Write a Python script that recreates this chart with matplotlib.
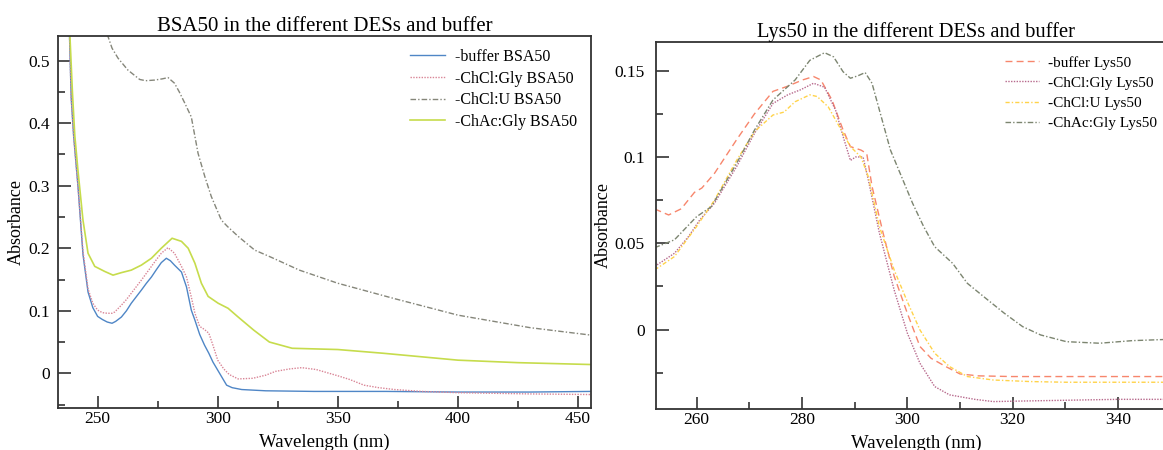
import numpy as np
import matplotlib
matplotlib.use("Agg")
import matplotlib.pyplot as plt

plt.rcParams["font.family"] = ["Liberation Serif", "DejaVu Serif"]

# ---------------- BSA50 panel ----------------
bsa_buffer_x = [238.0, 239.0, 240.0, 241.8, 243.9, 246.0, 248.0, 250.0, 252.0, 254.0, 256.0, 257.5,
                259.9, 262.0, 264.0, 266.0, 268.2, 270.3, 272.4, 274.5, 276.5, 278.6, 280.3, 282.0,
                284.9, 287.0, 289.0, 290.5, 292.5, 294.5, 296.3, 298.0, 300.0, 302.0, 303.7, 306.0,
                310.0, 320.0, 340.0, 370.0, 400.0, 430.0, 455.5]
bsa_buffer_y = [0.58, 0.44, 0.38, 0.30, 0.19, 0.13, 0.105, 0.091, 0.086, 0.082, 0.080, 0.083,
                0.090, 0.100, 0.112, 0.122, 0.133, 0.144, 0.154, 0.166, 0.177, 0.184, 0.180, 0.173,
                0.162, 0.138, 0.101, 0.085, 0.062, 0.045, 0.032, 0.018, 0.005, -0.008, -0.019, -0.023,
                -0.026, -0.028, -0.029, -0.029, -0.030, -0.030, -0.029]

bsa_chclgly_x = [238.0, 239.0, 240.0, 241.8, 243.9, 246.0, 248.0, 250.0, 252.0, 254.0, 256.0, 257.1,
                 259.9, 262.0, 264.0, 266.0, 268.2, 270.3, 272.4, 274.5, 276.5, 279.3, 282.0, 284.9,
                 287.0, 289.0, 290.5, 292.5, 294.5, 296.3, 298.0, 300.0, 302.5, 304.8, 308.5, 314.6,
                 320.0, 324.0, 330.0, 335.0, 341.0, 350.0, 355.0, 360.9, 367.0, 373.7, 385.0, 400.0,
                 430.0, 455.5]
bsa_chclgly_y = [0.58, 0.44, 0.38, 0.30, 0.195, 0.135, 0.112, 0.101, 0.097, 0.096, 0.096, 0.098,
                 0.109, 0.118, 0.128, 0.138, 0.149, 0.160, 0.171, 0.182, 0.192, 0.201, 0.192, 0.171,
                 0.154, 0.122, 0.096, 0.075, 0.070, 0.064, 0.045, 0.021, 0.007, -0.002, -0.009, -0.008,
                 -0.003, 0.003, 0.007, 0.009, 0.006, -0.004, -0.010, -0.019, -0.023, -0.026, -0.029, -0.031,
                 -0.033, -0.034]

bsa_chclu_x = [253.5, 254.2, 256.0, 258.5, 262.6, 267.5, 270.0, 273.7, 277.0, 279.3, 282.0, 284.0,
               286.3, 289.0, 291.8, 294.6, 297.3, 301.5, 304.0, 308.5, 315.4, 322.0, 334.0, 350.0,
               373.0, 400.0, 430.0, 455.5]
bsa_chclu_y = [0.56, 0.54, 0.52, 0.504, 0.485, 0.470, 0.468, 0.469, 0.471, 0.473, 0.464, 0.450,
               0.432, 0.410, 0.352, 0.315, 0.283, 0.245, 0.235, 0.219, 0.197, 0.186, 0.165, 0.144,
               0.120, 0.093, 0.073, 0.061]

bsa_chacgly_x = [238.0, 239.5, 240.5, 241.8, 243.9, 246.0, 248.8, 252.9, 256.4, 259.9, 264.0, 268.2,
                 272.4, 276.5, 281.0, 284.9, 287.7, 290.5, 293.2, 296.0, 300.2, 304.3, 308.5, 315.0,
                 321.5, 331.0, 350.0, 369.0, 400.0, 425.0, 455.5]
bsa_chacgly_y = [0.58, 0.45, 0.38, 0.325, 0.245, 0.192, 0.171, 0.163, 0.157, 0.161, 0.165, 0.173,
                 0.184, 0.200, 0.216, 0.211, 0.200, 0.176, 0.144, 0.123, 0.112, 0.104, 0.090, 0.069,
                 0.050, 0.040, 0.038, 0.032, 0.021, 0.017, 0.014]

# ---------------- Lys50 panel ----------------
lys_x = [252.0, 252.5, 254.7, 257.1, 259.6, 261.0, 263.4, 267.6, 271.0, 274.5, 277.3, 280.1,
         282.2, 283.6, 285.7, 287.8, 289.2, 291.2, 292.3, 293.3, 295.4, 297.5, 300.0, 302.4,
         304.5, 307.3, 310.0, 313.5, 319.8, 330.0, 340.0, 352.0]
lys_buffer_y = [0.0695, 0.0693, 0.0664, 0.0700, 0.0795, 0.0820, 0.0905, 0.1100, 0.1250, 0.1380, 0.1410, 0.1446,
                0.1466, 0.1446, 0.1330, 0.1157, 0.1060, 0.1040, 0.1020, 0.0830, 0.0560, 0.0310, 0.0095, -0.0098,
                -0.0166, -0.0214, -0.0257, -0.0268, -0.0272, -0.0272, -0.0272, -0.0272]

lys_chclgly_x = [252.0, 252.5, 255.8, 258.5, 260.6, 263.4, 267.6, 271.0, 274.5, 277.3, 279.8, 282.2,
                 284.3, 286.4, 287.8, 289.2, 290.2, 291.6, 292.6, 294.7, 297.5, 300.0, 302.4, 305.2,
                 308.0, 312.8, 316.3, 323.3, 340.0, 352.0]
lys_chclgly_y = [0.0370, 0.0375, 0.0442, 0.0540, 0.0635, 0.0732, 0.0944, 0.1137, 0.1310, 0.1360, 0.1390, 0.1427,
                 0.1404, 0.1270, 0.1120, 0.0980, 0.1000, 0.1000, 0.0867, 0.0560, 0.0230, -0.0020, -0.0195, -0.0330,
                 -0.0378, -0.0404, -0.0417, -0.0413, -0.0404, -0.0404]

lys_chclu_x = [252.0, 252.5, 255.8, 260.0, 263.4, 267.6, 271.0, 274.5, 276.6, 278.7, 281.5, 282.9,
               285.0, 287.1, 289.2, 291.2, 292.6, 294.7, 297.5, 300.0, 302.4, 305.2, 308.0, 311.4,
               316.3, 323.3, 330.2, 352.0]
lys_chclu_y = [0.0350, 0.0355, 0.0423, 0.0597, 0.0750, 0.0980, 0.1147, 0.1243, 0.1260, 0.1320, 0.1360, 0.1350,
               0.1290, 0.1176, 0.1060, 0.1000, 0.0886, 0.0597, 0.0346, 0.0162, -0.0002, -0.0137, -0.0214, -0.0272,
               -0.0292, -0.0301, -0.0305, -0.0305]

lys_chacgly_x = [252.0, 252.5, 255.8, 260.0, 262.8, 267.6, 271.0, 274.5, 278.7, 281.5, 284.3, 286.0,
                 287.8, 289.2, 290.6, 292.0, 293.3, 294.7, 296.8, 298.9, 301.0, 303.1, 305.2, 308.6,
                 311.4, 314.9, 318.4, 321.9, 325.3, 330.2, 336.5, 342.7, 352.0]
lys_chacgly_y = [0.0478, 0.0480, 0.0520, 0.0654, 0.0712, 0.0963, 0.1156, 0.1330, 0.1446, 0.1560, 0.1604, 0.1580,
                 0.1494, 0.1456, 0.1470, 0.1489, 0.1427, 0.1272, 0.1040, 0.0886, 0.0732, 0.0597, 0.0480, 0.0384,
                 0.0268, 0.0181, 0.0095, 0.0017, -0.0031, -0.0070, -0.0079, -0.0064, -0.0054]


def style_axes(ax, xmajor, xminor, ymajor, yminor, ypad):
    for sp in ax.spines.values():
        sp.set_color("#333333")
        sp.set_linewidth(1.3)
    ax.set_xticks(xmajor)
    ax.set_xticks(xminor, minor=True)
    ax.set_yticks(ymajor)
    ax.set_yticks(yminor, minor=True)
    ax.tick_params(which="both", direction="in", top=False, right=False,
                   color="#333333", width=1.2, labelsize=12.5)
    ax.tick_params(which="major", length=9)
    ax.tick_params(which="minor", length=5)
    ax.tick_params(axis="x", pad=2)
    ax.tick_params(axis="y", pad=ypad)
    ax.set_xlabel("Wavelength (nm)", fontsize=13.5, labelpad=5)
    ax.set_ylabel("Absorbance", fontsize=13, labelpad=2)


fig = plt.figure(figsize=(11.63, 4.5), dpi=100)

# ---------- left: BSA50 ----------
ax1 = fig.add_axes([58 / 1163, 1 - 408.3 / 450, 533 / 1163, 372.3 / 450])
ax1.plot(bsa_buffer_x, bsa_buffer_y, color="#4f86c6", lw=1.0, label="-buffer BSA50")
ax1.plot(bsa_chclgly_x, bsa_chclgly_y, color="#d98596", lw=1.0, dashes=(1, 1), label="-ChCl:Gly BSA50")
ax1.plot(bsa_chclu_x, bsa_chclu_y, color="#85867a", lw=1.0, dashes=(4, 1.5, 1, 1.5), label="-ChCl:U BSA50")
ax1.plot(bsa_chacgly_x, bsa_chacgly_y, color="#c6dc4c", lw=1.2, label="-ChAc:Gly BSA50")
ax1.set_xlim(233.5, 455.4)
ax1.set_ylim(-0.056, 0.5395)
style_axes(ax1, [250, 300, 350, 400, 450], [275, 325, 375, 425],
           [0, 0.1, 0.2, 0.3, 0.4, 0.5], [-0.05, 0.05, 0.15, 0.25, 0.35, 0.45], 6)
ax1.set_yticklabels(["0", "0.1", "0.2", "0.3", "0.4", "0.5"])
ax1.set_title("BSA50 in the different DESs and buffer", fontsize=15, pad=2)
ax1.legend(loc="upper left", bbox_to_anchor=(0.66, 0.965), frameon=False, fontsize=11.5,
           handlelength=2.2, handletextpad=0.6, labelspacing=0.35, borderpad=0, borderaxespad=0)

# ---------- right: Lys50 ----------
ax2 = fig.add_axes([656 / 1163, 1 - 409 / 450, 520 / 1163, 367 / 450])
ax2.plot(lys_x, lys_buffer_y, color="#f7866c", lw=1.0, dashes=(5, 3), label="-buffer Lys50")
ax2.plot(lys_chclgly_x, lys_chclgly_y, color="#b7698c", lw=1.0, dashes=(1, 1), label="-ChCl:Gly Lys50")
ax2.plot(lys_chclu_x, lys_chclu_y, color="#ffd34a", lw=1.0, dashes=(3, 1.5, 1, 1.5), label="-ChCl:U Lys50")
ax2.plot(lys_chacgly_x, lys_chacgly_y, color="#7c8570", lw=1.0, dashes=(4, 1.5, 1, 1.5), label="-ChAc:Gly Lys50")
ax2.set_xlim(252.3, 351.0)
ax2.set_ylim(-0.046, 0.1666)
style_axes(ax2, [260, 280, 300, 320, 340], [270, 290, 310, 330],
           [0, 0.05, 0.1, 0.15], [-0.025, 0.025, 0.075, 0.125], 8)
ax2.set_yticklabels(["0", "0.05", "0.1", "0.15"])
ax2.set_title("Lys50 in the different DESs and buffer", fontsize=14.8, pad=3)
ax2.legend(loc="upper left", bbox_to_anchor=(0.672, 0.962), frameon=False, fontsize=11.0,
           handlelength=2.2, handletextpad=0.6, labelspacing=0.42, borderpad=0, borderaxespad=0)

fig.savefig("out.png", dpi=100)
